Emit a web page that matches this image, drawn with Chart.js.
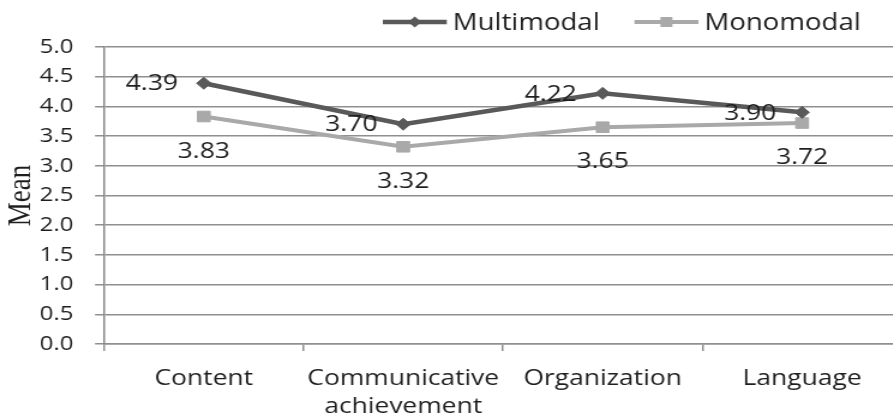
<!DOCTYPE html>
<html>
<head>
<meta charset="utf-8">
<script src="https://cdn.jsdelivr.net/npm/chart.js@4/dist/chart.umd.min.js"></script>
<style>
  html, body { margin: 0; padding: 0; background: #fff; overflow: hidden; }
  #wrap { width: 760px; height: 416px; transform: scaleX(1.2); transform-origin: 0 0; }
  canvas { display: block; }
</style>
</head>
<body>
<div id="wrap"><canvas id="chart" width="760" height="416"></canvas></div>
<script>
// Mean scores per rating criterion
const categories = ['Content', ['Communicative', 'achievement'], 'Organization', 'Language'];
const multimodal = [4.39, 3.70, 4.22, 3.90];
const monomodal = [3.83, 3.32, 3.65, 3.72];
const seriesNames = ['Multimodal', 'Monomodal'];
const yMin = 0, yMax = 5, yStep = 0.5;

const FONT = '"Open Sans", "DejaVu Sans", sans-serif';
const DARK = '#595959';
const LIGHT = '#a9a9a9';
const TEXT = '#1e1e1e';
const GRID = '#8f8f8f';

// value labels: first series to the left of its points, second series below
const valueLabels = {
  id: 'valueLabels',
  afterDatasetsDraw(chart) {
    const ctx = chart.ctx;
    ctx.save();
    ctx.font = '22px ' + FONT;
    ctx.fillStyle = TEXT;
    chart.data.datasets.forEach((ds, di) => {
      const meta = chart.getDatasetMeta(di);
      meta.data.forEach((pt, i) => {
        const txt = ds.data[i].toFixed(2);
        ctx.textBaseline = 'middle';
        if (di === 0) {
          ctx.textAlign = 'right';
          ctx.fillText(txt, pt.x - 21.5, pt.y + 1);
        } else {
          ctx.textAlign = 'center';
          ctx.fillText(txt, pt.x, pt.y + 35);
        }
      });
    });
    ctx.restore();
  }
};

// legend with a line sample and marker for each series
const lineLegend = {
  id: 'lineLegend',
  afterDraw(chart) {
    const ctx = chart.ctx;
    const y = 22;
    const sampleLen = 53.3, textGap = 5, itemGap = 29;
    let x = 319;
    ctx.save();
    ctx.font = '23px ' + FONT;
    ctx.textBaseline = 'middle';
    ctx.textAlign = 'left';
    chart.data.datasets.forEach((ds) => {
      ctx.strokeStyle = ds.borderColor;
      ctx.lineWidth = ds.borderWidth;
      ctx.beginPath();
      ctx.moveTo(x, y);
      ctx.lineTo(x + sampleLen, y);
      ctx.stroke();
      const cx = x + sampleLen / 2;
      ctx.fillStyle = ds.pointBackgroundColor;
      ctx.beginPath();
      if (ds.pointStyle === 'rectRot') {
        const r = 5.5;
        ctx.moveTo(cx, y - r); ctx.lineTo(cx + r, y); ctx.lineTo(cx, y + r); ctx.lineTo(cx - r, y);
        ctx.closePath();
      } else {
        const h = 5;
        ctx.rect(cx - h, y - h, 2 * h, 2 * h);
      }
      ctx.fill();
      ctx.fillStyle = TEXT;
      const tx = x + sampleLen + textGap;
      ctx.fillText(ds.label, tx, y + 1);
      x = tx + ctx.measureText(ds.label).width + itemGap;
    });
    ctx.restore();
  }
};

new Chart(document.getElementById('chart'), {
  type: 'line',
  data: {
    labels: categories,
    datasets: [
      {
        label: seriesNames[0],
        data: multimodal,
        borderColor: DARK,
        backgroundColor: DARK,
        pointBackgroundColor: DARK,
        pointBorderColor: DARK,
        borderWidth: 4.5,
        pointStyle: 'rectRot',
        pointRadius: 6,
        pointBorderWidth: 1,
        tension: 0
      },
      {
        label: seriesNames[1],
        data: monomodal,
        borderColor: LIGHT,
        backgroundColor: LIGHT,
        pointBackgroundColor: LIGHT,
        pointBorderColor: LIGHT,
        borderWidth: 4,
        pointStyle: 'rect',
        pointRadius: 7.5,
        pointBorderWidth: 1,
        tension: 0
      }
    ]
  },
  options: {
    responsive: false,
    animation: false,
    devicePixelRatio: 1,
    layout: { padding: { top: 47, right: 3.3, bottom: 0, left: 0 } },
    plugins: {
      legend: { display: false },
      tooltip: { enabled: false }
    },
    scales: {
      x: {
        offset: true,
        grid: {
          offset: true,
          drawOnChartArea: false,
          drawTicks: true,
          tickLength: 7,
          color: GRID,
          lineWidth: 1.5
        },
        border: { display: true, color: GRID, width: 1.5 },
        ticks: {
          color: TEXT,
          font: { family: FONT, size: 22, lineHeight: 1.25 },
          padding: 14,
          maxRotation: 0,
          autoSkip: false
        },
        afterFit(scale) { scale.height = 72; }
      },
      y: {
        min: yMin,
        max: yMax,
        grid: {
          color: GRID,
          lineWidth: 1.5,
          drawTicks: true,
          tickLength: 7.5
        },
        border: { display: true, color: '#858585', width: 1.5 },
        ticks: {
          stepSize: yStep,
          color: TEXT,
          font: { family: FONT, size: 20 },
          padding: 18,
          callback: (v) => Number(v).toFixed(1)
        },
        title: {
          display: true,
          text: 'Mean',
          color: TEXT,
          font: { family: '"Liberation Serif", "DejaVu Serif", serif', size: 27 },
          padding: { top: 2, bottom: 0 }
        },
        afterFit(scale) { scale.width = 86.7; }
      }
    }
  },
  plugins: [valueLabels, lineLegend]
});
</script>
</body>
</html>
